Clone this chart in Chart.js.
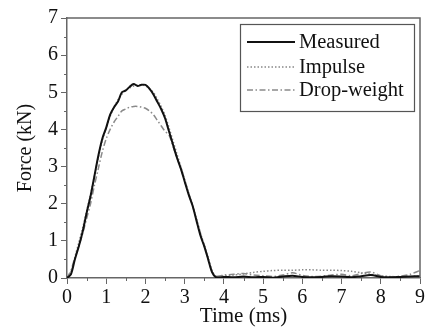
<!DOCTYPE html>
<html>
<head>
<meta charset="utf-8">
<script src="https://cdn.jsdelivr.net/npm/chart.js@4"></script>
<style>
  html, body { margin: 0; padding: 0; background: #fff; }
  canvas { display: block; }
</style>
</head>
<body>
<canvas id="forceChart" width="427" height="330"></canvas>
<script>
// time axis (ms)
const times = [0, 0.1, 0.2, 0.3, 0.4, 0.5, 0.6, 0.7, 0.8, 0.9,
  1.0, 1.1, 1.2, 1.3, 1.4, 1.5, 1.6, 1.7, 1.8, 1.9,
  2.0, 2.1, 2.2, 2.3, 2.4, 2.5, 2.6, 2.7, 2.8, 2.9,
  3.0, 3.1, 3.2, 3.3, 3.4, 3.5, 3.6, 3.7, 3.8,
  4.0, 4.25, 4.5, 4.75, 5.0, 5.25, 5.5, 5.75, 6.0, 6.25, 6.5,
  6.75, 7.0, 7.25, 7.5, 7.75, 8.0, 8.25, 8.5, 8.75, 9.0];

// force (kN)
const measured = [0, 0.1, 0.5, 0.85, 1.25, 1.75, 2.2, 2.75, 3.3, 3.75,
  4.05, 4.4, 4.6, 4.75, 5.0, 5.05, 5.15, 5.22, 5.17, 5.2,
  5.2, 5.1, 4.95, 4.75, 4.55, 4.3, 3.95, 3.6, 3.25, 2.95,
  2.6, 2.25, 1.95, 1.55, 1.15, 0.85, 0.5, 0.15, 0.02,
  0.03, 0.02, 0.04, 0.02, 0.03, 0.01, 0.04, 0.06, 0.03, 0.02, 0.03,
  0.05, 0.04, 0.02, 0.05, 0.08, 0.03, 0.02, 0.03, 0.04, 0.05];

const impulse = [0, 0.15, 0.55, 0.95, 1.35, 1.8, 2.25, 2.75, 3.25, 3.7,
  4.05, 4.35, 4.6, 4.8, 4.95, 5.05, 5.12, 5.17, 5.2, 5.2,
  5.17, 5.1, 5.0, 4.82, 4.62, 4.38, 4.05, 3.7, 3.35, 3.0,
  2.65, 2.3, 1.95, 1.6, 1.22, 0.88, 0.55, 0.2, 0.05,
  0.06, 0.08, 0.11, 0.15, 0.18, 0.2, 0.21, 0.21, 0.22, 0.22, 0.21,
  0.21, 0.2, 0.18, 0.14, 0.1, 0.06, 0.04, 0.03, 0.04, 0.05];

const dropWeight = [0, 0.2, 0.55, 0.85, 1.2, 1.6, 2.0, 2.5, 2.95, 3.4,
  3.75, 4.0, 4.2, 4.35, 4.5, 4.55, 4.6, 4.62, 4.62, 4.6,
  4.57, 4.5, 4.4, 4.25, 4.1, 3.95, 3.85, 3.55, 3.25, 2.95,
  2.62, 2.28, 1.95, 1.58, 1.2, 0.88, 0.52, 0.17, 0.05,
  0.08, 0.1, 0.12, 0.08, 0.06, 0.04, 0.08, 0.14, 0.07, 0.04, 0.05,
  0.08, 0.1, 0.06, 0.12, 0.16, 0.06, 0.03, 0.05, 0.1, 0.2];

const seriesNames = ['Measured', 'Impulse', 'Drop-weight'];

const FONT = 'Liberation Serif, Times New Roman, serif';
const AXIS = '#666';

function toPoints(vals) {
  return vals.map((v, i) => ({ x: times[i], y: v }));
}

// frame on top/right, minor ticks and boxed legend
const decorations = {
  id: 'decorations',
  afterDraw(chart) {
    const ctx = chart.ctx;
    const a = chart.chartArea;
    const xs = chart.scales.x;
    const ys = chart.scales.y;
    ctx.save();
    ctx.strokeStyle = AXIS;
    ctx.lineWidth = 1.5;
    ctx.beginPath();
    ctx.moveTo(a.left, a.top);
    ctx.lineTo(a.right, a.top);
    ctx.lineTo(a.right, a.bottom);
    ctx.stroke();

    ctx.lineWidth = 1;
    ctx.beginPath();
    for (let t = 0.5; t < 9; t += 1) {
      const px = Math.round(xs.getPixelForValue(t)) + 0.5;
      ctx.moveTo(px, a.bottom);
      ctx.lineTo(px, a.bottom + 3);
    }
    for (let f = 0.5; f < 7; f += 1) {
      const py = Math.round(ys.getPixelForValue(f)) + 0.5;
      ctx.moveTo(a.left, py);
      ctx.lineTo(a.left - 3, py);
    }
    ctx.stroke();

    // legend
    ctx.strokeStyle = '#555';
    ctx.lineWidth = 1.2;
    ctx.strokeRect(240.5, 24.5, 174, 87);
    const rows = [42, 67, 90];
    chart.data.datasets.forEach((ds, i) => {
      ctx.strokeStyle = ds.borderColor;
      ctx.lineWidth = ds.borderWidth;
      ctx.setLineDash(ds.borderDash || []);
      ctx.beginPath();
      ctx.moveTo(247, rows[i]);
      ctx.lineTo(295, rows[i]);
      ctx.stroke();
      ctx.setLineDash([]);
      ctx.fillStyle = '#111';
      ctx.font = '20.5px ' + FONT;
      ctx.textBaseline = 'middle';
      ctx.fillText(ds.label, 299, rows[i] + 1);
    });
    ctx.restore();
  }
};

const ctx = document.getElementById('forceChart').getContext('2d');
const chart = new Chart(ctx, {
  type: 'line',
  data: {
    datasets: [{
      label: seriesNames[0],
      data: toPoints(measured),
      borderColor: '#111',
      borderWidth: 2,
      pointRadius: 0,
      tension: 0.3
    }, {
      label: seriesNames[1],
      data: toPoints(impulse),
      borderColor: '#888',
      borderWidth: 1.5,
      borderDash: [1.5, 2],
      pointRadius: 0,
      tension: 0.3
    }, {
      label: seriesNames[2],
      data: toPoints(dropWeight),
      borderColor: '#8a8a8a',
      borderWidth: 1.5,
      borderDash: [6, 2.5, 1.5, 2.5],
      pointRadius: 0,
      tension: 0.3
    }]
  },
  options: {
    responsive: false,
    animation: false,
    layout: { padding: { left: 0, top: 18, right: 6, bottom: 0 } },
    plugins: {
      legend: { display: false },
      tooltip: { enabled: false }
    },
    scales: {
      x: {
        type: 'linear',
        min: 0,
        max: 9,
        afterFit(scale) { scale.height = 52; },
        border: { display: true, color: AXIS, width: 1.5 },
        grid: { drawOnChartArea: false, drawTicks: true, tickLength: 6, color: AXIS },
        ticks: {
          stepSize: 1,
          maxRotation: 0,
          padding: 2,
          color: '#111',
          font: { family: FONT, size: 20 }
        },
        title: {
          display: true,
          text: 'Time (ms)',
          color: '#111',
          padding: { top: 0, bottom: 1 },
          font: { family: FONT, size: 21 }
        }
      },
      y: {
        min: 0,
        max: 7,
        afterFit(scale) { scale.width = 67; },
        border: { display: true, color: AXIS, width: 1.5 },
        grid: { drawOnChartArea: false, drawTicks: true, tickLength: 6, color: AXIS },
        ticks: {
          stepSize: 1,
          padding: 3,
          color: '#111',
          font: { family: FONT, size: 20 }
        },
        title: {
          display: true,
          text: 'Force (kN)',
          color: '#111',
          padding: { top: 14, bottom: 0 },
          font: { family: FONT, size: 20 }
        }
      }
    }
  },
  plugins: [decorations]
});
</script>
</body>
</html>
